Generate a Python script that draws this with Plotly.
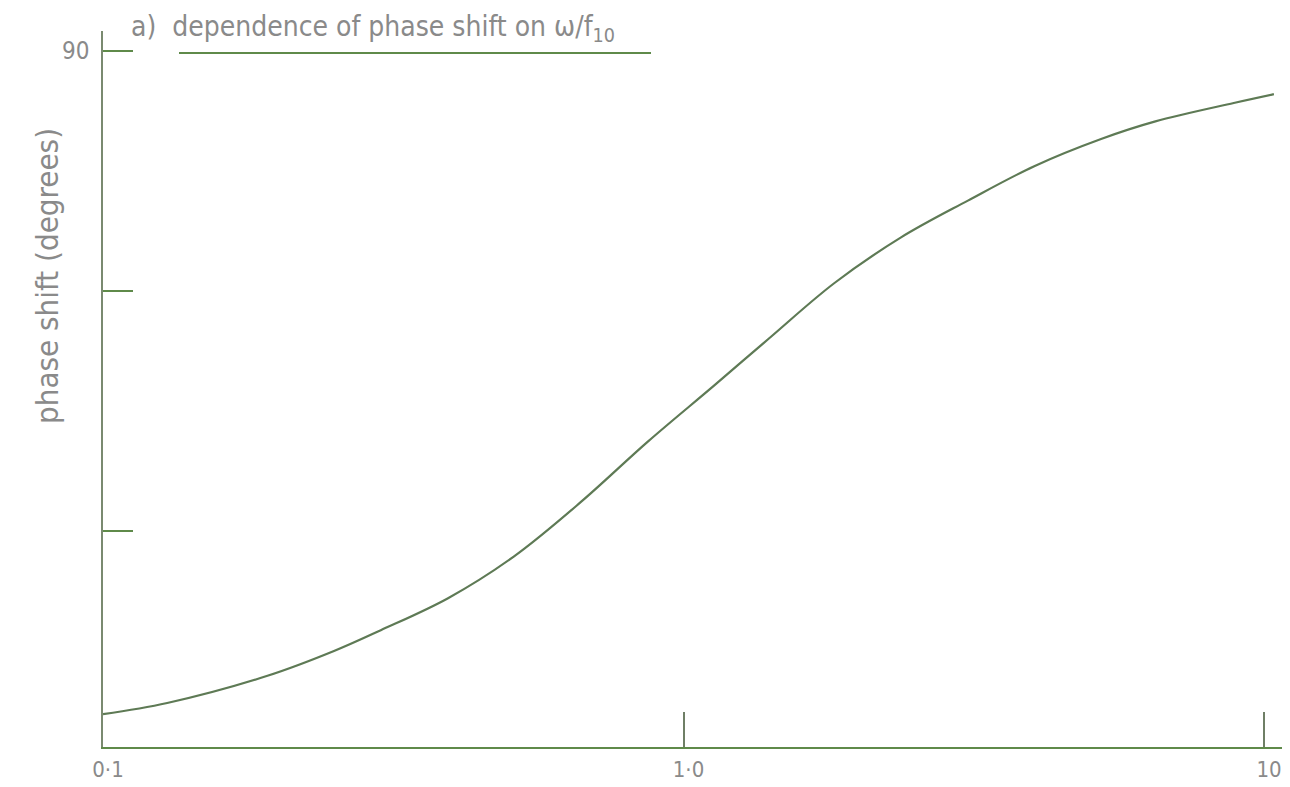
import plotly.graph_objects as go

# Curve: omega/f10 (log axis) vs phase shift (degrees)
omega_ratio = [0.1, 0.129, 0.192, 0.25, 0.301, 0.393, 0.51, 0.665, 0.869,
               1.13, 1.40, 1.82, 2.37, 3.09, 4.02, 5.24, 6.5, 8.87, 10.4]
phase_deg = [7.1, 8.5, 11.9, 15.0, 17.6, 21.6, 26.8, 33.6, 41.2,
             48.2, 54.0, 61.0, 66.7, 71.3, 75.6, 79.0, 81.2, 83.5, 84.6]

x_tick_vals = [0.1, 1, 10]
x_tick_text = ["0·1", "1·0", "10"]
y_tick_vals = [30, 60, 90]
y_label_val = 90
y_label_text = "90"

title_text = "a)  dependence of phase shift on ω/f<sub>10</sub>"
y_title_text = "phase shift (degrees)"

line_col = "#5f8a4a"
curve_col = "#5e7a55"
text_col = "#8a8a8a"
font_fam = "DejaVu Sans Condensed, Liberation Sans Narrow, DejaVu Sans, sans-serif"

# page body adds a ~7px offset; plot area lands at screen x 102..1290, y 30..746
OFF = 7
ML, MR, MT, MB = 102 - OFF, 0, 30 - OFF, 787 - 746 + OFF
W, H = 1290, 787
PW, PH = W - ML - MR, H - MT - MB
DEC = 580.5  # pixels per decade on the x axis

def px(xs):
    return (xs - OFF - ML) / PW

def py(ys):
    return (H - MB - (ys - OFF)) / PH

fig = go.Figure()
fig.add_trace(go.Scatter(
    x=omega_ratio, y=phase_deg, mode="lines",
    line=dict(color=curve_col, width=2.2, shape="spline", smoothing=1.0),
    showlegend=False, hoverinfo="skip"))

fig.update_layout(
    width=W, height=H,
    margin=dict(l=ML, r=MR, t=MT, b=MB),
    paper_bgcolor="white", plot_bgcolor="white",
    font=dict(family=font_fam, color=text_col, size=18),
    xaxis=dict(type="log", range=[-1, -1 + PW / DEC], showgrid=False, zeroline=False,
               showline=True, linecolor=line_col, linewidth=2,
               ticks="inside", ticklen=35, tickwidth=2, tickcolor="#6f7f66",
               tickvals=x_tick_vals, ticktext=x_tick_text,
               ticklabelstandoff=2, ticklabelshift=5,
               tickfont=dict(size=22, color=text_col, family=font_fam)),
    yaxis=dict(range=[3, 3 + PH / 8.0], showgrid=False, zeroline=False,
               showline=True, linecolor="#7a8a70", linewidth=2,
               ticks="inside", ticklen=30, tickwidth=2, tickcolor=line_col,
               tickvals=y_tick_vals, showticklabels=False),
)

fig.add_annotation(
    text=y_label_text, xref="paper", yref="y", x=px(90), y=y_label_val,
    xanchor="right", yanchor="middle", showarrow=False,
    font=dict(size=24, color=text_col, family=font_fam))

fig.add_annotation(
    text=title_text, xref="paper", yref="paper", x=px(128), y=py(28),
    xanchor="left", yanchor="middle", showarrow=False,
    font=dict(size=28, color=text_col, family=font_fam))
fig.add_shape(type="line", xref="paper", yref="paper",
              x0=px(178), x1=px(650), y0=py(52), y1=py(52),
              line=dict(color=line_col, width=2))

fig.add_annotation(
    text=y_title_text, xref="paper", yref="paper",
    x=px(46), y=py(275),
    xanchor="center", yanchor="middle", textangle=-90, showarrow=False,
    font=dict(size=31, color=text_col, family=font_fam))

fig.write_html("out.html")
